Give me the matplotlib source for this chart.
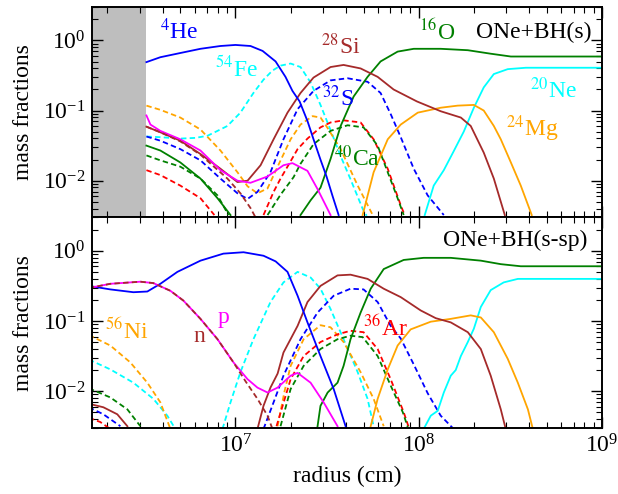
import numpy as np
import matplotlib.pyplot as plt

plt.rcParams['font.family'] = ['Liberation Serif', 'DejaVu Serif']
plt.rcParams['mathtext.fontset'] = 'stix'
plt.rcParams['font.size'] = 17
plt.rcParams['axes.linewidth'] = 1.4

nan = np.nan

# ---- ONe+BH(s): log10(radius/cm), log10(mass fraction) ----
lr_he4_s = [6.514, 6.590, 6.699, 6.809, 6.918, 7.000, 7.082, 7.148, 7.219, 7.273, 7.311, 7.350, 7.393, 7.426, 7.464, 7.497, 7.530, 7.563]
lx_he4_s = [-0.31, -0.24, -0.18, -0.12, -0.08, -0.065, -0.08, -0.15, -0.30, -0.52, -0.72, -0.87, -1.15, -1.41, -1.70, -1.94, -2.22, -2.49]

lr_fe54_s = [6.514, 6.590, 6.699, 6.781, 6.847, 6.902, 6.956, 7.027, 7.098, 7.153, 7.202, 7.246, 7.301, 7.355, 7.410, 7.464, 7.519, 7.574, 7.628, 7.694, 7.716]
lx_fe54_s = [-1.37, -1.38, -1.40, -1.39, -1.36, -1.29, -1.22, -1.03, -0.75, -0.56, -0.43, -0.36, -0.33, -0.38, -0.60, -0.92, -1.28, -1.65, -1.98, -2.40, -2.50]

lr_si28_s = [6.514, 6.590, 6.699, 6.809, 6.918, 7.011, 7.066, 7.137, 7.208, 7.284, 7.355, 7.426, 7.519, 7.590, 7.683, 7.776, 7.863, 7.990, 8.120, 8.230, 8.284, 8.355, 8.410, 8.470]
lx_si28_s = [-1.23, -1.31, -1.43, -1.62, -1.83, -2.02, -2.00, -1.78, -1.41, -1.03, -0.75, -0.53, -0.38, -0.35, -0.40, -0.52, -0.70, -0.87, -1.01, -1.10, -1.22, -1.60, -1.97, -2.49]

lr_p_s = [6.514, 6.536, 6.590, 6.699, 6.809, 6.918, 7.011, 7.082, 7.175, 7.262, 7.311, 7.393, 7.448, 7.519]
lx_p_s = [-1.07, -1.20, -1.29, -1.41, -1.57, -1.85, -2.00, -2.03, -1.94, -1.78, -1.75, -1.86, -2.12, -2.49]

lr_n_s = [6.514, 6.590, 6.699, 6.809, 6.891, 6.956, 7.027, 7.082, 7.115]
lx_n_s = [-1.23, -1.31, -1.44, -1.63, -1.82, -1.97, -2.18, -2.39, -2.55]

lr_s32_s = [6.514, 6.590, 6.699, 6.809, 6.918, 7.011, 7.066, 7.120, 7.191, 7.262, 7.339, 7.426, 7.519, 7.612, 7.721, 7.792, 7.847, 7.902, 7.973, 8.049, 8.137]
lx_s32_s = [-1.37, -1.43, -1.55, -1.71, -1.97, -2.18, -2.26, -2.16, -1.88, -1.41, -0.98, -0.72, -0.57, -0.54, -0.59, -0.75, -1.05, -1.38, -1.83, -2.21, -2.49]

lr_ni56_s = [6.514, 6.590, 6.699, 6.809, 6.918, 7.011, 7.066, 7.120, 7.175, 7.230, 7.301, 7.355, 7.421, 7.464, 7.503, 7.574, 7.667, 7.749]
lx_ni56_s = [-0.93, -0.99, -1.10, -1.27, -1.57, -1.88, -2.08, -2.18, -2.11, -1.80, -1.41, -1.20, -1.08, -1.10, -1.25, -1.55, -2.07, -2.49]

lr_o16_s = [6.514, 6.590, 6.699, 6.809, 6.902, 6.973, nan, 7.355, 7.410, 7.464, 7.519, 7.574, 7.645, 7.721, 7.792, 7.885, 7.973, 8.120, 8.268, 8.393, 8.503, 9.0]
lx_o16_s = [-1.50, -1.57, -1.74, -1.97, -2.25, -2.49, nan, -2.49, -2.28, -2.10, -1.69, -1.22, -0.80, -0.52, -0.30, -0.16, -0.12, -0.12, -0.14, -0.19, -0.23, -0.23]

lr_ca40_s = [6.514, 6.590, 6.699, 6.809, 6.902, 6.962, nan, 7.175, 7.246, 7.317, 7.355, 7.426, 7.519, 7.612, 7.699, 7.776, 7.831, 7.885, 7.918]
lx_ca40_s = [-1.64, -1.71, -1.80, -1.97, -2.21, -2.49, nan, -2.49, -2.20, -1.95, -1.76, -1.48, -1.29, -1.21, -1.24, -1.50, -1.88, -2.25, -2.49]

lr_ar36_s = [6.514, 6.590, 6.699, 6.809, 6.885, nan, 7.153, 7.208, 7.246, 7.284, 7.339, 7.393, 7.464, 7.519, 7.590, 7.683, 7.754, 7.831, 7.902, 7.923]
lx_ar36_s = [-1.85, -1.92, -2.07, -2.25, -2.49, nan, -2.49, -2.16, -1.97, -1.80, -1.55, -1.40, -1.24, -1.17, -1.14, -1.17, -1.41, -1.83, -2.35, -2.49]

lr_mg24_s = [7.694, 7.754, 7.831, 7.902, 7.995, 8.120, 8.213, 8.301, 8.355, 8.410, 8.448, 8.503, 8.557, 8.617]
lx_mg24_s = [-2.49, -1.88, -1.41, -1.20, -1.03, -0.96, -0.93, -0.92, -1.00, -1.22, -1.41, -1.74, -2.07, -2.49]

lr_ne20_s = [8.033, 8.082, 8.137, 8.191, 8.246, 8.301, 8.355, 8.410, 8.486, 8.585, 9.0]
lx_ne20_s = [-2.49, -2.07, -1.85, -1.58, -1.30, -0.96, -0.67, -0.48, -0.41, -0.39, -0.39]

# ---- ONe+BH(s-sp) ----
lr_he4_sp = [6.20, 6.317, 6.443, 6.519, 6.590, 6.683, 6.809, 6.934, 7.044, 7.153, 7.219, 7.284, 7.339, 7.393, 7.464, 7.536, 7.601]
lx_he4_sp = [-0.50, -0.55, -0.59, -0.58, -0.47, -0.30, -0.14, -0.04, -0.02, -0.07, -0.15, -0.30, -0.64, -1.02, -1.50, -1.97, -2.50]

lr_p_sp = [6.20, 6.317, 6.481, 6.552, 6.645, 6.716, 6.809, 6.902, 6.989, 7.066, 7.120, 7.175, 7.230, 7.301, 7.339, 7.410, 7.481, 7.557]
lx_p_sp = [-0.53, -0.47, -0.44, -0.46, -0.57, -0.71, -0.97, -1.26, -1.59, -1.83, -1.95, -2.02, -1.95, -1.78, -1.74, -1.88, -2.16, -2.50]

lr_n_sp = [6.20, 6.317, 6.481, 6.552, 6.645, 6.716, 6.809, 6.902, 6.989, 7.055, 7.120, 7.175, 7.202]
lx_n_sp = [-0.53, -0.47, -0.44, -0.46, -0.57, -0.71, -0.97, -1.26, -1.59, -1.86, -2.11, -2.35, -2.54]

lr_ni56_sp = [6.20, 6.317, 6.426, 6.519, 6.590, 6.645, nan, 7.230, 7.268, 7.301, 7.372, 7.464, 7.519, 7.590, 7.683, 7.754, 7.809]
lx_ni56_sp = [-1.20, -1.35, -1.59, -1.88, -2.16, -2.54, nan, -2.50, -2.00, -1.64, -1.26, -1.06, -1.09, -1.30, -1.73, -2.11, -2.50]

lr_fe54_sp = [6.20, 6.317, 6.443, 6.552, 6.628, 6.672, nan, 6.929, 6.973, 7.027, 7.098, 7.191, 7.262, 7.339, 7.410, 7.464, 7.519, 7.590, 7.667, 7.721, 7.754]
lx_fe54_sp = [-1.55, -1.69, -1.88, -2.11, -2.35, -2.54, nan, -2.54, -2.16, -1.73, -1.26, -0.73, -0.45, -0.30, -0.38, -0.54, -0.83, -1.26, -1.73, -2.11, -2.50]

lr_ca40_sp = [6.20, 6.317, 6.410, 6.481, nan, 7.246, 7.301, 7.372, 7.464, 7.557, 7.628, 7.694, 7.776, 7.847, 7.913, 7.940]
lx_ca40_sp = [-1.96, -2.09, -2.26, -2.50, nan, -2.50, -1.97, -1.64, -1.40, -1.26, -1.21, -1.23, -1.50, -1.92, -2.30, -2.51]

lr_ar36_sp = [6.20, 6.262, 6.317, nan, 7.224, 7.301, 7.372, 7.464, 7.557, 7.628, 7.699, 7.776, 7.847, 7.918, 7.945]
lx_ar36_sp = [-2.38, -2.44, -2.54, nan, -2.50, -1.83, -1.50, -1.30, -1.19, -1.14, -1.16, -1.40, -1.83, -2.30, -2.51]

lr_s32_sp = [6.20, 6.279, 6.372, nan, 7.153, 7.208, 7.262, 7.355, 7.448, 7.536, 7.628, 7.699, 7.776, 7.847, 7.902, 7.973, 8.049, 8.120, 8.191]
lx_s32_sp = [-2.23, -2.33, -2.50, nan, -2.54, -2.16, -1.78, -1.26, -0.88, -0.64, -0.54, -0.55, -0.73, -1.07, -1.25, -1.62, -2.03, -2.35, -2.54]

lr_si28_sp = [6.20, 6.279, 6.355, 6.410, nan, 7.120, 7.153, 7.191, 7.230, 7.262, 7.339, 7.393, 7.464, 7.557, 7.628, 7.721, 7.809, 7.902, 8.011, 8.093, 8.175, 8.268, 8.339, 8.393, 8.448, 8.475]
lx_si28_sp = [-2.18, -2.23, -2.33, -2.50, nan, -2.54, -2.21, -1.95, -1.75, -1.45, -1.07, -0.73, -0.50, -0.35, -0.34, -0.40, -0.54, -0.66, -0.85, -0.96, -1.02, -1.16, -1.40, -1.78, -2.26, -2.54]

lr_o16_sp = [7.448, 7.464, 7.503, 7.557, 7.590, 7.628, 7.683, 7.738, 7.809, 7.918, 8.027, 8.175, 8.339, 8.448, 8.557, 9.0]
lx_o16_sp = [-2.50, -2.21, -2.02, -1.88, -1.64, -1.26, -0.88, -0.54, -0.26, -0.13, -0.10, -0.10, -0.14, -0.19, -0.22, -0.22]

lr_mg24_sp = [7.738, 7.776, 7.831, 7.885, 7.956, 8.066, 8.175, 8.284, 8.339, 8.410, 8.486, 8.541, 8.596, 8.623]
lx_mg24_sp = [-2.50, -2.11, -1.69, -1.35, -1.12, -1.01, -0.97, -0.92, -0.95, -1.16, -1.54, -1.88, -2.26, -2.54]

lr_ne20_sp = [8.027, 8.066, 8.104, 8.137, 8.175, 8.202, 8.230, 8.268, 8.301, 8.339, 8.393, 8.464, 8.541, 9.0]
lx_ne20_sp = [-2.54, -2.35, -2.28, -2.02, -1.78, -1.70, -1.50, -1.30, -1.11, -0.80, -0.56, -0.45, -0.40, -0.40]

r_min, r_max = 1.65e6, 1.0e9
r_excised = 10**6.514   # inner region not followed in the (s) run

solid = '-'
dash = (0, (3.0, 1.8))
curves_s = [
    (lr_fe54_s, lx_fe54_s, 'cyan', dash),
    (lr_ni56_s, lx_ni56_s, 'orange', dash),
    (lr_ar36_s, lx_ar36_s, 'red', dash),
    (lr_ca40_s, lx_ca40_s, 'green', dash),
    (lr_s32_s, lx_s32_s, 'blue', dash),
    (lr_o16_s, lx_o16_s, 'green', solid),
    (lr_ne20_s, lx_ne20_s, 'cyan', solid),
    (lr_mg24_s, lx_mg24_s, 'orange', solid),
    (lr_si28_s, lx_si28_s, 'brown', solid),
    (lr_p_s, lx_p_s, 'magenta', solid),
    (lr_n_s, lx_n_s, 'brown', dash),
    (lr_he4_s, lx_he4_s, 'blue', solid),
]
curves_sp = [
    (lr_fe54_sp, lx_fe54_sp, 'cyan', dash),
    (lr_ni56_sp, lx_ni56_sp, 'orange', dash),
    (lr_ar36_sp, lx_ar36_sp, 'red', dash),
    (lr_ca40_sp, lx_ca40_sp, 'green', dash),
    (lr_s32_sp, lx_s32_sp, 'blue', dash),
    (lr_o16_sp, lx_o16_sp, 'green', solid),
    (lr_ne20_sp, lx_ne20_sp, 'cyan', solid),
    (lr_mg24_sp, lx_mg24_sp, 'orange', solid),
    (lr_si28_sp, lx_si28_sp, 'brown', solid),
    (lr_he4_sp, lx_he4_sp, 'blue', solid),
    (lr_p_sp, lx_p_sp, 'magenta', solid),
    (lr_n_sp, lx_n_sp, 'brown', dash),
]

labels_s = [
    (0.171, 0.886, r'$^{4}$He', 'blue'),
    (0.284, 0.705, r'$^{54}$Fe', 'cyan'),
    (0.488, 0.814, r'$^{28}$Si', 'brown'),
    (0.482, 0.567, r'$^{32}$S', 'blue'),
    (0.520, 0.281, r'$^{40}$Ca', 'green'),
    (0.676, 0.881, r'$^{16}$O', 'green'),
    (0.904, 0.605, r'$^{20}$Ne', 'cyan'),
    (0.863, 0.419, r'$^{24}$Mg', 'orange'),
]
labels_sp = [
    (0.067, 0.457, r'$^{56}$Ni', 'orange'),
    (0.210, 0.433, 'n', 'brown'),
    (0.257, 0.524, 'p', 'magenta'),
    (0.575, 0.471, r'$^{36}$Ar', 'red'),
]

fig, (ax1, ax2) = plt.subplots(2, 1, sharex=True, figsize=(6.18, 4.94), dpi=100)
fig.subplots_adjust(left=0.149, right=0.974, top=0.986, bottom=0.134, hspace=0)

ax1.axvspan(r_min, r_excised, color='#bebebe', lw=0, zorder=0)

for ax, curves in ((ax1, curves_s), (ax2, curves_sp)):
    for lr, lx, c, ls in curves:
        ax.plot(10**np.array(lr), 10**np.array(lx), color=c, ls=ls, lw=1.3)
    ax.set_xscale('log')
    ax.set_yscale('log')
    ax.set_xlim(r_min, r_max)
    ax.set_ylim(3e-3, 3)
    ax.set_ylabel('mass fractions', fontsize=17, labelpad=6)
    ax.tick_params(which='both', direction='in', top=True, right=True, labelsize=17)
    ax.tick_params(which='major', length=8, width=1.0, pad=5)
    ax.tick_params(which='minor', length=4, width=0.8)

for x, y, s, c in labels_s:
    ax1.text(x, y, s, color=c, transform=ax1.transAxes, ha='center', va='center', fontsize=17)
for x, y, s, c in labels_sp:
    ax2.text(x, y, s, color=c, transform=ax2.transAxes, ha='center', va='center', fontsize=17)

ax1.text(0.98, 0.881, 'ONe+BH(s)', transform=ax1.transAxes, ha='right', va='center', fontsize=17)
ax2.text(0.971, 0.890, 'ONe+BH(s-sp)', transform=ax2.transAxes, ha='right', va='center', fontsize=17)

ax2.set_xlabel('radius (cm)', fontsize=17, labelpad=6)

fig.savefig('out.png', dpi=100)
